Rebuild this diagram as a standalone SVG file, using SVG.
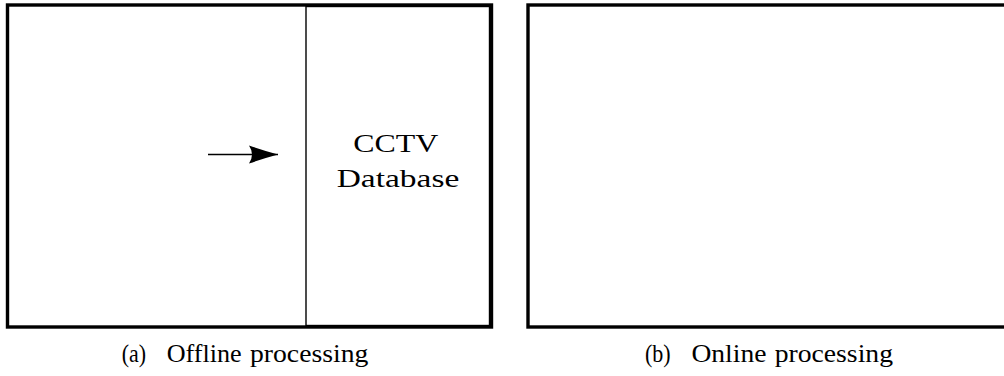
<svg xmlns="http://www.w3.org/2000/svg" width="1004" height="376" viewBox="0 0 1004 376">
  <style>
    .frame { fill: none; stroke: #000; stroke-width: 3.4; }
    .thin { fill: none; stroke: #000; stroke-width: 1.4; }
    .lbl { font-family: "Liberation Serif", "Times New Roman", serif; fill: #000; }
  </style>
  <defs>
    <marker id="arr" markerUnits="userSpaceOnUse" markerWidth="32" markerHeight="20" refX="30" refY="10" orient="auto" viewBox="0 0 32 20">
      <path d="M30,10 Q17,6.5 1,1 Q7,10 1,19 Q17,13.5 30,10 Z" fill="#000"/>
    </marker>
  </defs>
  <rect x="0" y="0" width="1004" height="376" fill="#fff"/>

  <g id="offline-panel">
    <rect class="frame" x="7.5" y="5" width="484" height="322"/>
  </g>

  <g id="cctv-database">
    <rect class="thin" x="306" y="6.5" width="183.5" height="319"/>
    <text class="lbl" font-size="25.5" x="353.3" y="152.3" textLength="85" lengthAdjust="spacingAndGlyphs">CCTV</text>
    <text class="lbl" font-size="25.5" x="336.7" y="187" textLength="122.6" lengthAdjust="spacingAndGlyphs">Database</text>
  </g>

  <g id="online-panel">
    <rect class="frame" x="528" y="5" width="478" height="322"/>
  </g>

  <g id="connectors">
    <line x1="208" y1="154.5" x2="278" y2="154.5" stroke="#000" stroke-width="1.5" marker-end="url(#arr)"/>
  </g>

  <g id="caption-a">
    <text class="lbl" font-size="25.5" y="362"><tspan x="121.7" textLength="24.3" lengthAdjust="spacingAndGlyphs">(a)</tspan><tspan x="166.7" textLength="75" lengthAdjust="spacingAndGlyphs">Offline</tspan><tspan x="250" textLength="118.3" lengthAdjust="spacingAndGlyphs">processing</tspan></text>
  </g>

  <g id="caption-b">
    <text class="lbl" font-size="25.5" y="362"><tspan x="645" textLength="25.7" lengthAdjust="spacingAndGlyphs">(b)</tspan><tspan x="691.4" textLength="75" lengthAdjust="spacingAndGlyphs">Online</tspan><tspan x="774.7" textLength="118.3" lengthAdjust="spacingAndGlyphs">processing</tspan></text>
  </g>
</svg>
